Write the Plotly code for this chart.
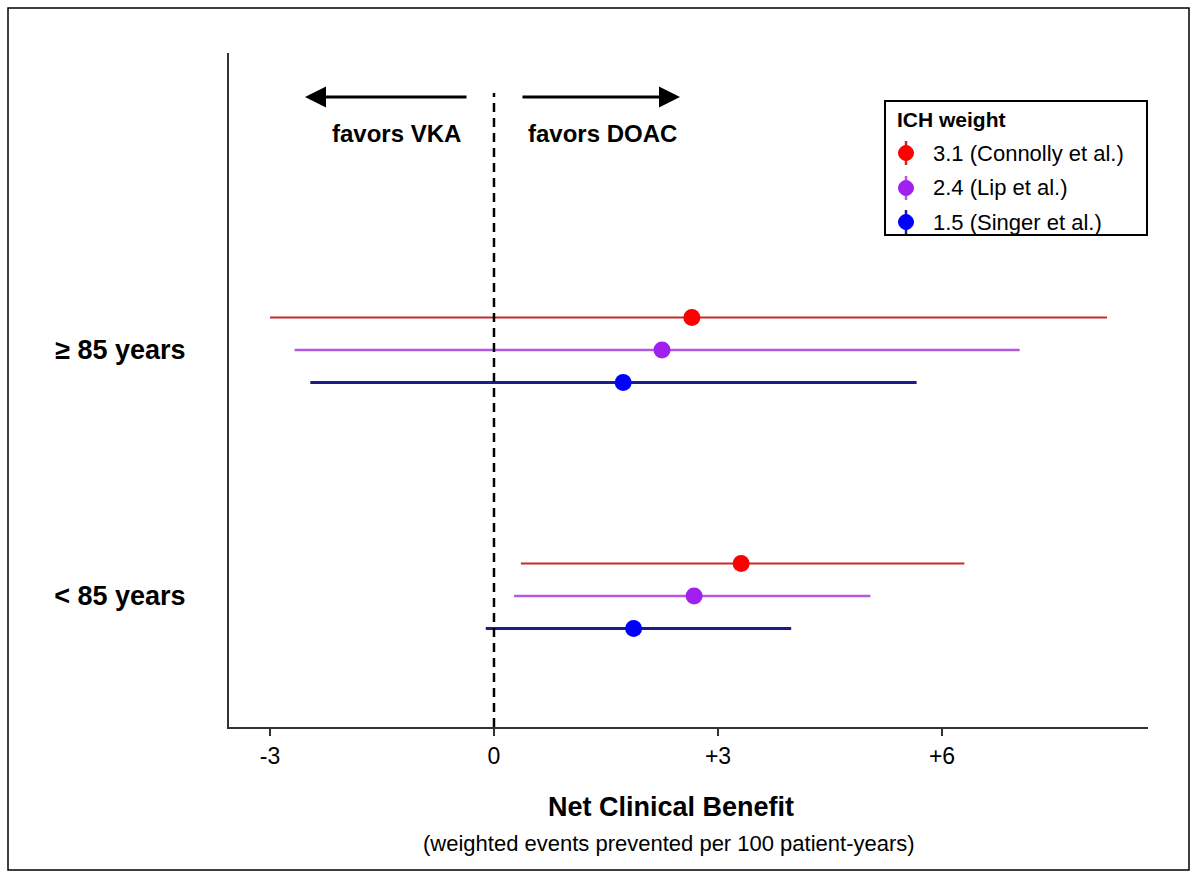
import plotly.graph_objects as go

# ---- data -------------------------------------------------------------
age_groups = ["< 85 years", "≥ 85 years"]
weight_labels = ["3.1 (Connolly et al.)", "2.4 (Lip et al.)", "1.5 (Singer et al.)"]

# net clinical benefit estimates and 95% intervals, per ICH weight
est_lt85 = [3.31, 2.68, 1.87]
lo_lt85 = [0.36, 0.27, -0.11]
hi_lt85 = [6.30, 5.04, 3.98]

est_ge85 = [2.65, 2.25, 1.73]
lo_ge85 = [-3.00, -2.67, -2.46]
hi_ge85 = [8.21, 7.04, 5.66]

x_ticks = [-3, 0, 3, 6]
x_tick_text = ["-3", "0", "+3", "+6"]

# ---- styling ----------------------------------------------------------
marker_colors = ["#ff0000", "#a020f0", "#0000ff"]
line_colors = ["#c62a2a", "#b257e0", "#1c1c8a"]
line_widths = [2, 2.5, 3]
row_offsets = [0.132, 0.0, -0.132]

W, H = 1197, 877
ML, MR, MT, MB = 229, 49, 53, 150
PW, PH = W - ML - MR, H - MT - MB
FONT = "Liberation Sans, Arial, sans-serif"


def px(x):
    return (x - ML) / PW


def py(y):
    return (H - MB - y) / PH


def label(x, y, text, size, bold=False, xanchor="center"):
    return dict(xref="paper", yref="paper", x=px(x), y=py(y),
                xanchor=xanchor, yanchor="middle", text=text, showarrow=False,
                font=dict(size=size, family=FONT, color="black",
                          weight=700 if bold else 400))


fig = go.Figure()

for i in range(3):
    xs = [est_lt85[i], est_ge85[i]]
    lo = [lo_lt85[i], lo_ge85[i]]
    hi = [hi_lt85[i], hi_ge85[i]]
    ys = [1 + row_offsets[i], 2 + row_offsets[i]]
    fig.add_trace(go.Scatter(
        x=xs, y=ys, mode="markers",
        marker=dict(size=17, color=marker_colors[i]),
        error_x=dict(type="data", symmetric=False,
                     array=[h - e for h, e in zip(hi, xs)],
                     arrayminus=[e - l for e, l in zip(xs, lo)],
                     color=line_colors[i], thickness=line_widths[i], width=0),
        name=weight_labels[i], showlegend=False,
    ))

fig.update_xaxes(
    range=[-3.549, 8.759], tickvals=x_ticks, ticktext=x_tick_text,
    showline=True, linecolor="#333333", linewidth=2,
    ticks="outside", ticklen=7, tickwidth=2, tickcolor="#333333",
    tickfont=dict(size=23, color="black", family=FONT),
    showgrid=False, zeroline=False,
)
fig.update_yaxes(
    range=[0.4675, 3.207], tickvals=[1, 2], ticktext=age_groups,
    showline=True, linecolor="#333333", linewidth=2,
    ticks="", ticklabelstandoff=36,
    tickfont=dict(size=27, color="black", family=FONT, weight=700),
    showgrid=False, zeroline=False,
)

shapes = []
# reference line at zero
shapes.append(dict(type="line", xref="x", yref="paper", x0=0, x1=0,
                   y0=0, y1=py(93),
                   line=dict(color="black", width=2.5, dash="9px,6px")))
# outer frame
shapes.append(dict(type="rect", xref="paper", yref="paper",
                   x0=px(8), x1=px(1189), y0=py(870), y1=py(8),
                   line=dict(color="black", width=1.5)))

annotations = []
# direction arrows
annotations.append(dict(xref="paper", yref="paper", x=px(305), y=py(97),
                        ax=163, ay=0, showarrow=True, arrowhead=2,
                        arrowsize=1.4, arrowwidth=3, arrowcolor="black", text=""))
annotations.append(dict(xref="paper", yref="paper", x=px(680), y=py(97),
                        ax=-159, ay=0, showarrow=True, arrowhead=2,
                        arrowsize=1.4, arrowwidth=3, arrowcolor="black", text=""))
annotations.append(label(396, 133, "favors VKA", 24, bold=True))
annotations.append(label(602, 133, "favors DOAC", 24, bold=True))

# axis title
annotations.append(label(671, 807, "Net Clinical Benefit", 27, bold=True))
annotations.append(label(669, 843, "(weighted events prevented per 100 patient-years)", 22))

# legend box
leg_x0, leg_x1, leg_y0, leg_y1 = 885, 1147, 101, 235
shapes.append(dict(type="rect", xref="paper", yref="paper",
                   x0=px(leg_x0), x1=px(leg_x1), y0=py(leg_y1), y1=py(leg_y0),
                   line=dict(color="black", width=2), fillcolor="white"))
annotations.append(label(895, 119, "ICH weight", 21, bold=True, xanchor="left"))
entry_y = [153, 188, 222]
for i in range(3):
    cy = entry_y[i]
    shapes.append(dict(type="line", xref="paper", yref="paper",
                       x0=px(906), x1=px(906), y0=py(cy + 12), y1=py(cy - 12),
                       line=dict(color=line_colors[i], width=2.5)))
    shapes.append(dict(type="circle", xref="paper", yref="paper",
                       x0=px(898.5), x1=px(913.5), y0=py(cy + 7.5), y1=py(cy - 7.5),
                       line=dict(color=marker_colors[i], width=1),
                       fillcolor=marker_colors[i]))
    annotations.append(label(931, cy, weight_labels[i], 22, xanchor="left"))

fig.update_layout(
    width=W, height=H,
    margin=dict(l=ML, r=MR, t=MT, b=MB),
    paper_bgcolor="white", plot_bgcolor="white",
    shapes=shapes, annotations=annotations,
    showlegend=False,
)

fig.write_html("out.html")
